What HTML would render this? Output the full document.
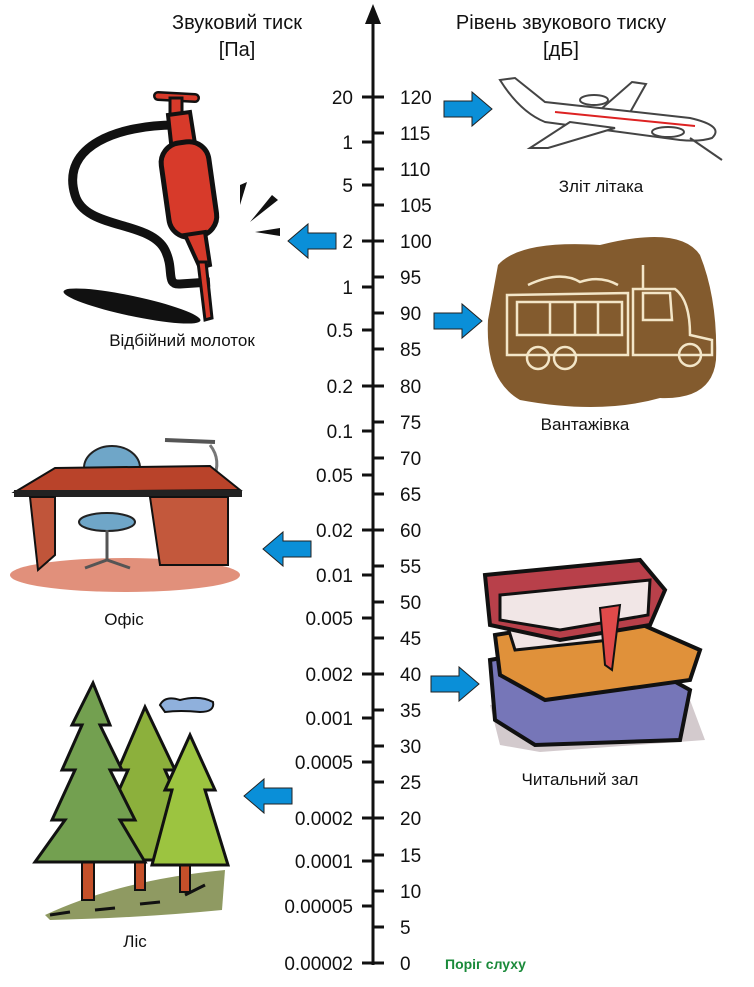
<!DOCTYPE html>
<html><head><meta charset="utf-8"><style>
html,body{margin:0;padding:0;background:#fff;}
body{width:754px;height:982px;overflow:hidden;position:relative;font-family:"Liberation Sans",Arial,sans-serif;}
svg text{font-family:"Liberation Sans",Arial,sans-serif;}
</style></head><body>
<svg width="754" height="982" viewBox="0 0 754 982" xmlns="http://www.w3.org/2000/svg">
<g font-size="20" fill="#111" text-anchor="middle">
<text x="237" y="29">Звуковий тиск</text>
<text x="237" y="56">[Па]</text>
<text x="561" y="29">Рівень звукового тиску</text>
<text x="561" y="56">[дБ]</text>
</g>
<line x1="373" y1="20" x2="373" y2="965" stroke="#111" stroke-width="3"/>
<polygon points="373,4 365,24 381,24" fill="#111"/>
<g stroke="#111" stroke-width="3">
<line x1="373" x2="384" y1="97" y2="97"/><line x1="373" x2="384" y1="133" y2="133"/><line x1="373" x2="384" y1="169" y2="169"/><line x1="373" x2="384" y1="205" y2="205"/><line x1="373" x2="384" y1="241" y2="241"/><line x1="373" x2="384" y1="277" y2="277"/><line x1="373" x2="384" y1="313" y2="313"/><line x1="373" x2="384" y1="349" y2="349"/><line x1="373" x2="384" y1="386" y2="386"/><line x1="373" x2="384" y1="422" y2="422"/><line x1="373" x2="384" y1="458" y2="458"/><line x1="373" x2="384" y1="494" y2="494"/><line x1="373" x2="384" y1="530" y2="530"/><line x1="373" x2="384" y1="566" y2="566"/><line x1="373" x2="384" y1="602" y2="602"/><line x1="373" x2="384" y1="638" y2="638"/><line x1="373" x2="384" y1="674" y2="674"/><line x1="373" x2="384" y1="710" y2="710"/><line x1="373" x2="384" y1="746" y2="746"/><line x1="373" x2="384" y1="782" y2="782"/><line x1="373" x2="384" y1="818" y2="818"/><line x1="373" x2="384" y1="855" y2="855"/><line x1="373" x2="384" y1="891" y2="891"/><line x1="373" x2="384" y1="927" y2="927"/><line x1="373" x2="384" y1="963" y2="963"/>
</g>
<g font-size="19" fill="#111">
<text x="400" y="104">120</text><text x="400" y="140">115</text><text x="400" y="176">110</text><text x="400" y="212">105</text><text x="400" y="248">100</text><text x="400" y="284">95</text><text x="400" y="320">90</text><text x="400" y="356">85</text><text x="400" y="393">80</text><text x="400" y="429">75</text><text x="400" y="465">70</text><text x="400" y="501">65</text><text x="400" y="537">60</text><text x="400" y="573">55</text><text x="400" y="609">50</text><text x="400" y="645">45</text><text x="400" y="681">40</text><text x="400" y="717">35</text><text x="400" y="753">30</text><text x="400" y="789">25</text><text x="400" y="825">20</text><text x="400" y="862">15</text><text x="400" y="898">10</text><text x="400" y="934">5</text><text x="400" y="970">0</text>
</g>
<g stroke="#111" stroke-width="3">
<line x1="362" x2="373" y1="97" y2="97"/><line x1="362" x2="373" y1="142" y2="142"/><line x1="362" x2="373" y1="185" y2="185"/><line x1="362" x2="373" y1="241" y2="241"/><line x1="362" x2="373" y1="287" y2="287"/><line x1="362" x2="373" y1="330" y2="330"/><line x1="362" x2="373" y1="386" y2="386"/><line x1="362" x2="373" y1="431" y2="431"/><line x1="362" x2="373" y1="475" y2="475"/><line x1="362" x2="373" y1="530" y2="530"/><line x1="362" x2="373" y1="575" y2="575"/><line x1="362" x2="373" y1="618" y2="618"/><line x1="362" x2="373" y1="674" y2="674"/><line x1="362" x2="373" y1="718" y2="718"/><line x1="362" x2="373" y1="762" y2="762"/><line x1="362" x2="373" y1="818" y2="818"/><line x1="362" x2="373" y1="861" y2="861"/><line x1="362" x2="373" y1="906" y2="906"/><line x1="362" x2="373" y1="963" y2="963"/>
</g>
<g font-size="19" fill="#111" text-anchor="end">
<text x="353" y="104">20</text><text x="353" y="149">1</text><text x="353" y="192">5</text><text x="353" y="248">2</text><text x="353" y="294">1</text><text x="353" y="337">0.5</text><text x="353" y="393">0.2</text><text x="353" y="438">0.1</text><text x="353" y="482">0.05</text><text x="353" y="537">0.02</text><text x="353" y="582">0.01</text><text x="353" y="625">0.005</text><text x="353" y="681">0.002</text><text x="353" y="725">0.001</text><text x="353" y="769">0.0005</text><text x="353" y="825">0.0002</text><text x="353" y="868">0.0001</text><text x="353" y="913">0.00005</text><text x="353" y="970">0.00002</text>
</g>
<text x="445" y="969" font-size="14" font-weight="bold" fill="#1a8a3a">Поріг слуху</text>
<defs>
<polygon id="ar" points="0,-8 28,-8 28,-17 48,0 28,17 28,8 0,8" fill="#0a8fd8" stroke="#222" stroke-width="1"/>
</defs>
<use href="#ar" transform="translate(444,109)"/>
<use href="#ar" transform="translate(434,321)"/>
<use href="#ar" transform="translate(431,684)"/>
<use href="#ar" transform="translate(336,241) scale(-1,1)"/>
<use href="#ar" transform="translate(311,549) scale(-1,1)"/>
<use href="#ar" transform="translate(292,796) scale(-1,1)"/>
<g font-size="17" fill="#111" text-anchor="middle">
<text x="601" y="192">Зліт літака</text>
<text x="182" y="346">Відбійний молоток</text>
<text x="585" y="430">Вантажівка</text>
<text x="124" y="625">Офіс</text>
<text x="580" y="785">Читальний зал</text>
<text x="135" y="947">Ліс</text>
</g>
<!-- airplane -->
<g stroke="#444" stroke-width="2" fill="#fff">
<path d="M600,110 L632,82 L646,84 L628,116 Z"/>
<path d="M500,80 L515,78 L545,102 L690,118 Q725,126 712,138 Q700,142 680,140 L545,122 Q520,112 500,80 Z"/>
<path d="M570,122 L530,148 L548,148 L615,128 Z"/>
<ellipse cx="594" cy="100" rx="14" ry="5"/>
<ellipse cx="668" cy="132" rx="16" ry="5"/>
<path d="M690,138 L722,160" fill="none"/>
<line x1="555" y1="112" x2="695" y2="126" stroke="#d22" stroke-width="2"/>
</g>
<!-- jackhammer -->
<ellipse cx="132" cy="306" rx="70" ry="10" transform="rotate(12 132 306)" fill="#111"/>
<path d="M175,125 C120,125 60,145 75,195 C85,230 150,220 165,250 C175,270 165,285 180,284 L210,282" fill="none" stroke="#111" stroke-width="9"/>
<line x1="158" y1="96" x2="195" y2="98" stroke="#111" stroke-width="10" stroke-linecap="round"/>
<line x1="158" y1="96" x2="195" y2="98" stroke="#d73a2a" stroke-width="5" stroke-linecap="round"/>
<rect x="170" y="98" width="12" height="20" fill="#d73a2a" stroke="#111" stroke-width="3"/>
<path d="M168,115 L190,112 L196,150 L172,152 Z" fill="#d73a2a" stroke="#111" stroke-width="4"/>
<rect x="165" y="142" width="48" height="95" rx="20" transform="rotate(-8 189 190)" fill="#d73a2a" stroke="#111" stroke-width="5"/>
<path d="M185,235 L205,232 L210,265 L200,268 Z" fill="#d73a2a" stroke="#111" stroke-width="4"/>
<path d="M198,262 L206,262 L212,318 L205,320 Z" fill="#d73a2a" stroke="#111" stroke-width="3"/>
<g fill="#111"><polygon points="240,185 247,182 240,205"/><polygon points="272,195 278,200 250,222"/><polygon points="255,232 280,228 280,236"/></g>
<!-- truck -->
<path d="M498,265 Q520,240 600,245 Q680,225 700,255 Q718,300 716,360 Q712,400 660,398 Q600,415 520,400 Q485,380 488,320 Z" fill="#835b2e"/>
<g stroke="#f3e6c8" stroke-width="2.5" fill="none">
<path d="M507,295 L628,293 L628,355 L507,355 Z"/>
<path d="M517,302 L622,302 L622,335 L517,335 Z"/>
<path d="M550,302 V335 M575,302 V335 M598,302 V335"/>
<path d="M528,285 Q560,270 580,282 Q600,275 618,285"/>
<path d="M633,289 L675,289 Q690,300 690,335 L712,340 L712,355 L633,355 Z"/>
<path d="M643,293 L670,293 L672,320 L643,320 Z"/>
<line x1="643" y1="265" x2="643" y2="290"/>
<circle cx="538" cy="358" r="11"/><circle cx="565" cy="358" r="11"/><circle cx="690" cy="355" r="11"/>
</g>
<!-- office -->
<ellipse cx="125" cy="575" rx="115" ry="17" fill="#d9745a" opacity="0.8"/>
<path d="M165,440 L215,442" stroke="#555" stroke-width="4"/>
<path d="M210,445 Q222,460 213,480" stroke="#777" stroke-width="3" fill="none"/>
<ellipse cx="112" cy="468" rx="28" ry="22" fill="#6fa6c8" stroke="#222" stroke-width="2"/>
<path d="M55,468 L210,466 L240,490 L15,492 Z" fill="#b9432a" stroke="#111" stroke-width="2"/>
<rect x="14" y="490" width="228" height="7" fill="#222"/>
<path d="M30,497 L55,497 L55,555 L38,570 Z" fill="#c0553a" stroke="#111" stroke-width="2"/>
<path d="M150,497 L228,497 L228,565 L160,565 Z" fill="#c3583c" stroke="#111" stroke-width="2"/>
<ellipse cx="107" cy="522" rx="28" ry="9" fill="#6fa6c8" stroke="#222" stroke-width="2"/>
<path d="M107,530 V560 M85,568 L107,560 L130,568" stroke="#555" stroke-width="3" fill="none"/>
<!-- books -->
<path d="M490,705 L560,695 L690,700 L705,740 L540,752 L500,745 Z" fill="#b5a7ab" opacity="0.6"/>
<path d="M490,660 L600,640 L690,690 L680,740 L535,745 L495,720 Z" fill="#7676b8" stroke="#111" stroke-width="4"/>
<path d="M495,635 L620,615 L700,650 L690,680 L545,700 L500,675 Z" fill="#e0913a" stroke="#111" stroke-width="4"/>
<path d="M505,618 L610,612 L610,640 L515,650 Z" fill="#f0e4e4" stroke="#111" stroke-width="3"/>
<path d="M485,575 L640,560 L665,590 L650,625 L560,640 L490,625 Z" fill="#b8404a" stroke="#111" stroke-width="4"/>
<path d="M500,595 L650,580 L648,615 L560,630 L500,620 Z" fill="#f1e6e6" stroke="#111" stroke-width="3"/>
<path d="M600,608 L620,605 L612,670 L605,665 Z" fill="#e04a4a" stroke="#111" stroke-width="2"/>
<!-- forest -->
<path d="M45,915 Q120,880 225,870 L222,910 Q140,918 50,920 Z" fill="#8f9a62"/>
<path d="M50,915 L70,912 M95,910 L115,908 M140,904 L160,902 M185,895 L205,885" stroke="#111" stroke-width="3"/>
<path d="M160,705 Q165,695 180,700 Q200,695 213,702 Q215,712 200,712 Q180,710 165,712 Z" fill="#8fb0dc" stroke="#111" stroke-width="2"/>
<rect x="82" y="860" width="12" height="40" fill="#c4502a" stroke="#111" stroke-width="2"/>
<rect x="135" y="855" width="10" height="35" fill="#c4502a" stroke="#111" stroke-width="2"/>
<rect x="180" y="862" width="10" height="30" fill="#c4502a" stroke="#111" stroke-width="2"/>
<polygon points="145,707 175,770 165,770 185,815 175,815 200,860 95,860 118,815 108,815 128,770 118,770" fill="#8cb03c" stroke="#111" stroke-width="3"/>
<polygon points="190,735 215,790 205,790 228,865 152,865 172,790 165,790" fill="#9cc440" stroke="#111" stroke-width="3"/>
<polygon points="93,683 110,725 100,725 122,770 110,770 135,820 120,820 145,862 35,862 65,820 52,820 75,770 62,770 82,725 72,725" fill="#73a050" stroke="#111" stroke-width="3"/>
</svg>
</body></html>
